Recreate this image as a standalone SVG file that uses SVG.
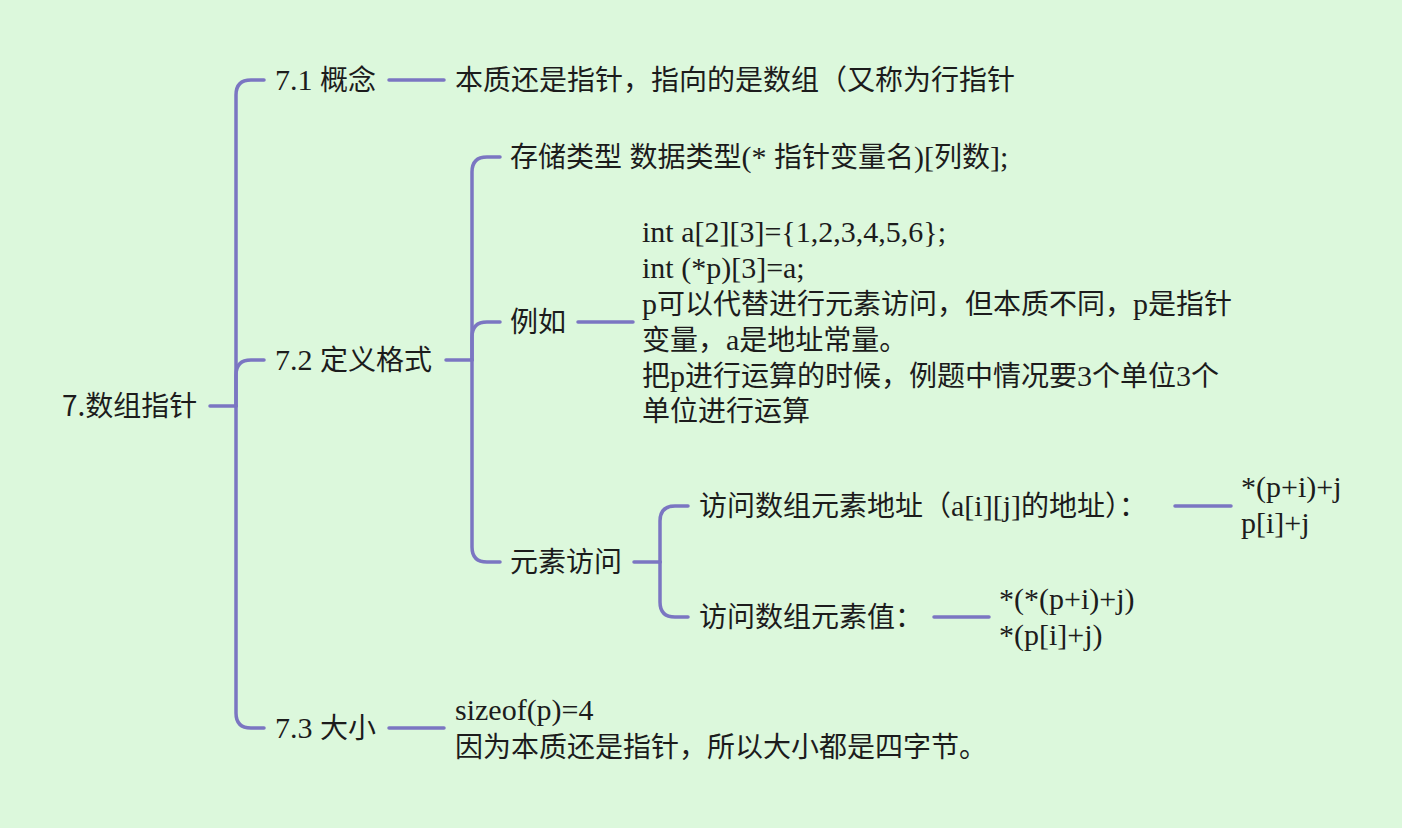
<svg xmlns="http://www.w3.org/2000/svg" width="1402" height="828" viewBox="0 0 1402 828">
  <style>
    .bg { fill: #dcf8dc; }
    .edge { fill: none; stroke: #7b76c2; stroke-width: 3.5; stroke-linecap: round; }
    .t { font-family: "Noto Sans CJK SC", "Noto Sans", sans-serif; font-size: 28px; fill: #1c1c1c; }
    .s { font-family: "Liberation Serif", "DejaVu Serif", serif; font-size: 30px; }
  </style>
  <rect class="bg" x="0" y="0" width="1402" height="828"/>

  <g id="connectors">
    <!-- root to level 1 -->
    <path class="edge" d="M210,406 H236"/>
    <path class="edge" d="M236,406 V95 Q236,80 251,80 H264"/>
    <path class="edge" d="M236,406 V375 Q236,360 251,360 H264"/>
    <path class="edge" d="M236,406 V713 Q236,728 251,728 H264"/>
    <!-- 7.1 -->
    <path class="edge" d="M389,80 H444"/>
    <!-- 7.2 -->
    <path class="edge" d="M446,360 H472"/>
    <path class="edge" d="M472,360 V172 Q472,157 487,157 H500"/>
    <path class="edge" d="M472,360 V337 Q472,322 487,322 H500"/>
    <path class="edge" d="M472,360 V547 Q472,562 487,562 H500"/>
    <path class="edge" d="M578,322 H633"/>
    <!-- element access -->
    <path class="edge" d="M634,562 H660"/>
    <path class="edge" d="M660,562 V521 Q660,506 675,506 H688"/>
    <path class="edge" d="M660,562 V602 Q660,617 675,617 H688"/>
    <path class="edge" d="M1175,506 H1231"/>
    <path class="edge" d="M934,617 H989"/>
    <!-- 7.3 -->
    <path class="edge" d="M389,728 H444"/>
  </g>

  <g id="root">
    <text class="t" x="62" y="416">7.数组指针</text>
  </g>

  <g id="n71">
    <text class="t" x="275" y="90"><tspan class="s">7.1 </tspan>概念</text>
  </g>
  <g id="n71-def">
    <text class="t" x="455" y="90">本质还是指针，指向的是数组（又称为行指针</text>
  </g>

  <g id="n72">
    <text class="t" x="275" y="370"><tspan class="s">7.2 </tspan>定义格式</text>
  </g>
  <g id="n72-syntax">
    <text class="t" x="510" y="167">存储类型<tspan class="s"> </tspan>数据类型<tspan class="s">(* </tspan>指针变量名<tspan class="s">)[</tspan>列数<tspan class="s">];</tspan></text>
  </g>
  <g id="n72-example">
    <text class="t" x="510" y="332">例如</text>
  </g>
  <g id="n72-example-body">
    <text class="t">
      <tspan class="s" x="642" y="242">int a[2][3]={1,2,3,4,5,6};</tspan>
      <tspan class="s" x="642" y="278">int (*p)[3]=a;</tspan>
      <tspan x="642" y="314"><tspan class="s">p</tspan>可以代替进行元素访问，但本质不同，<tspan class="s">p</tspan>是指针</tspan>
      <tspan x="642" y="350">变量，<tspan class="s">a</tspan>是地址常量。</tspan>
      <tspan x="642" y="386">把<tspan class="s">p</tspan>进行运算的时候，例题中情况要<tspan class="s">3</tspan>个单位<tspan class="s">3</tspan>个</tspan>
      <tspan x="642" y="421">单位进行运算</tspan>
    </text>
  </g>
  <g id="n72-access">
    <text class="t" x="510" y="572">元素访问</text>
  </g>
  <g id="n72-access-addr">
    <text class="t" x="699" y="516">访问数组元素地址（<tspan class="s">a[i][j]</tspan>的地址）：</text>
  </g>
  <g id="n72-access-addr-forms">
    <text class="t">
      <tspan class="s" x="1241" y="497">*(p+i)+j</tspan>
      <tspan class="s" x="1241" y="533">p[i]+j</tspan>
    </text>
  </g>
  <g id="n72-access-value">
    <text class="t" x="699" y="627">访问数组元素值：</text>
  </g>
  <g id="n72-access-value-forms">
    <text class="t">
      <tspan class="s" x="999" y="609">*(*(p+i)+j)</tspan>
      <tspan class="s" x="999" y="645">*(p[i]+j)</tspan>
    </text>
  </g>

  <g id="n73">
    <text class="t" x="275" y="738"><tspan class="s">7.3 </tspan>大小</text>
  </g>
  <g id="n73-body">
    <text class="t">
      <tspan class="s" x="455" y="720">sizeof(p)=4</tspan>
      <tspan x="455" y="757">因为本质还是指针，所以大小都是四字节。</tspan>
    </text>
  </g>
</svg>
